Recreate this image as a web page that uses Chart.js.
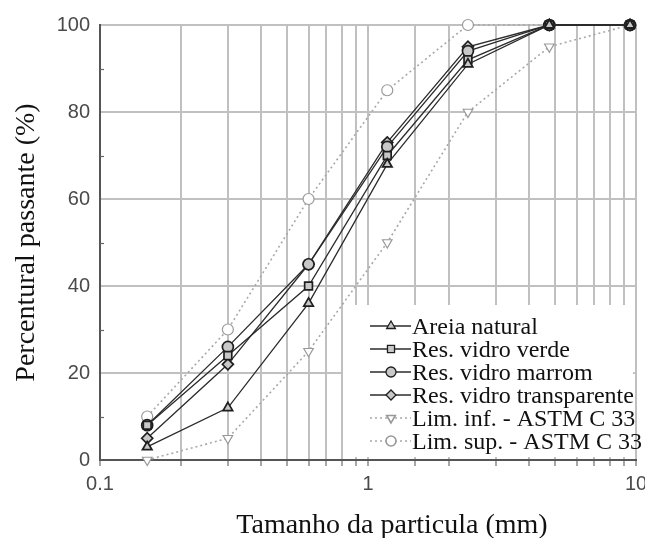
<!DOCTYPE html>
<html>
<head>
<meta charset="utf-8">
<script src="https://cdn.jsdelivr.net/npm/chart.js"></script>
<style>
  body { margin: 0; background: #fff; }
  #wrap { width: 645px; height: 538px; }
</style>
</head>
<body>
<div id="wrap"><canvas id="granulometria" width="645" height="538"></canvas></div>
<script>
// peneiras (mm)
const peneiras = [0.15, 0.3, 0.6, 1.18, 2.36, 4.75, 9.5];

// percentual passante (%)
const areiaNatural = [3, 12, 36, 68, 91, 100, 100];
const vidroVerde = [8, 24, 40, 70, 92, 100, 100];
const vidroMarrom = [8, 26, 45, 72, 94, 100, 100];
const vidroTransparente = [5, 22, 45, 73, 95, 100, 100];
const limInferior = [0, 5, 25, 50, 80, 95, 100];
const limSuperior = [10, 30, 60, 85, 100, 100, 100];

const rotulos = [
  "Areia natural",
  "Res. vidro verde",
  "Res. vidro marrom",
  "Res. vidro transparente",
  "Lim. inf. - ASTM C 33",
  "Lim. sup. - ASTM C 33"
];

const tituloX = "Tamanho da particula (mm)";
const tituloY = "Percentural passante (%)";

const pontos = (serie) => peneiras.map((d, i) => ({ x: d, y: serie[i] }));

const serieEscura = (label, serie, estilo) => ({
  label,
  data: pontos(serie),
  borderColor: "#2b2b2b",
  borderWidth: 1.3,
  pointStyle: estilo,
  pointRadius: 5.5,
  pointBorderWidth: 1.7,
  pointBorderColor: "#1e1e1e",
  pointBackgroundColor: "#c8c8c8",
  tension: 0,
  clip: false
});

const serieLimite = (label, serie, estilo, rot) => ({
  label,
  data: pontos(serie),
  borderColor: "#a8a8a8",
  borderWidth: 1.6,
  borderDash: [2, 3],
  pointStyle: estilo,
  pointRotation: rot,
  pointRadius: 5.5,
  pointBorderWidth: 1.2,
  pointBorderColor: "#999",
  pointBackgroundColor: "#ffffff",
  tension: 0,
  clip: false
});

const datasets = [
  serieEscura(rotulos[0], areiaNatural, "triangle"),
  serieEscura(rotulos[1], vidroVerde, "rect"),
  serieEscura(rotulos[2], vidroMarrom, "circle"),
  serieEscura(rotulos[3], vidroTransparente, "rectRot"),
  serieLimite(rotulos[4], limInferior, "triangle", 180),
  serieLimite(rotulos[5], limSuperior, "circle", 0)
];

// tracinhos menores do eixo y (10, 30, 50...) e titulo do eixo x
const extrasEixos = {
  id: "extrasEixos",
  afterDraw(chart) {
    const { ctx, scales: { y }, chartArea } = chart;
    ctx.save();
    ctx.strokeStyle = "#666";
    ctx.lineWidth = 1.2;
    for (let v = 10; v < 100; v += 20) {
      const py = Math.round(y.getPixelForValue(v)) + 0.5;
      ctx.beginPath();
      ctx.moveTo(chartArea.left, py);
      ctx.lineTo(chartArea.left + 4, py);
      ctx.stroke();
    }
    ctx.fillStyle = "#111";
    ctx.font = "28px 'Liberation Serif'";
    ctx.textAlign = "center";
    ctx.textBaseline = "alphabetic";
    ctx.fillText(tituloX, 392, 533);
    ctx.restore();
  }
};

// legenda dentro da area do grafico, canto inferior direito
const legendaInterna = {
  id: "legendaInterna",
  afterDatasetsDraw(chart) {
    const { ctx } = chart;
    ctx.save();
    ctx.fillStyle = "#fff";
    ctx.fillRect(343, 305, 290, 152);
    chart.data.datasets.forEach((ds, i) => {
      const yy = 326 + i * 23;
      ctx.strokeStyle = ds.borderColor;
      ctx.lineWidth = ds.borderWidth;
      ctx.setLineDash(ds.borderDash || []);
      ctx.beginPath();
      ctx.moveTo(370, yy);
      ctx.lineTo(411, yy);
      ctx.stroke();
      ctx.setLineDash([]);
      ctx.strokeStyle = ds.pointBorderColor;
      ctx.fillStyle = ds.pointBackgroundColor;
      Chart.helpers.drawPoint(ctx, {
        pointStyle: ds.pointStyle,
        rotation: ds.pointRotation || 0,
        radius: 5,
        borderWidth: ds.pointBorderWidth
      }, 391, yy);
      ctx.fillStyle = "#111";
      ctx.font = "24px 'Liberation Serif'";
      ctx.textAlign = "left";
      ctx.textBaseline = "alphabetic";
      ctx.fillText(ds.label, 412, yy + 8);
    });
    ctx.restore();
  }
};

const ehDecada = (v) => Math.abs(Math.log10(v) - Math.round(Math.log10(v))) < 1e-6;

new Chart(document.getElementById("granulometria"), {
  type: "line",
  data: { datasets },
  plugins: [legendaInterna, extrasEixos],
  options: {
    responsive: false,
    animation: false,
    layout: { padding: { top: 25, right: 9, left: 0, bottom: 0 } },
    plugins: {
      legend: { display: false },
      tooltip: { enabled: false }
    },
    scales: {
      x: {
        type: "logarithmic",
        min: 0.1,
        max: 10,
        afterFit: (s) => { s.height = 78; s.paddingRight = 0; s.paddingLeft = 0; },
        grid: {
          color: "#c0c0c0",
          lineWidth: 2,
          drawTicks: true,
          tickLength: 6,
          tickColor: "#777",
          tickWidth: 1.3
        },
        border: { color: "#555", width: 2 },
        ticks: {
          autoSkip: false,
          maxRotation: 0,
          padding: 6,
          color: "#4a4a4a",
          font: { family: "'Liberation Sans'", size: 20 },
          callback: (v) => (ehDecada(v) ? String(Number(v.toPrecision(3))) : "")
        }
      },
      y: {
        min: 0,
        max: 100,
        afterFit: (s) => { s.width = 100; },
        grid: { color: "#c0c0c0", lineWidth: 2, drawTicks: false },
        border: { color: "#555", width: 2 },
        ticks: {
          stepSize: 20,
          padding: 10,
          color: "#4a4a4a",
          font: { family: "'Liberation Sans'", size: 20 }
        },
        title: {
          display: true,
          text: tituloY,
          color: "#111",
          font: { family: "'Liberation Serif'", size: 28 },
          padding: { top: 10, bottom: 0 }
        }
      }
    }
  }
});
</script>
</body>
</html>
